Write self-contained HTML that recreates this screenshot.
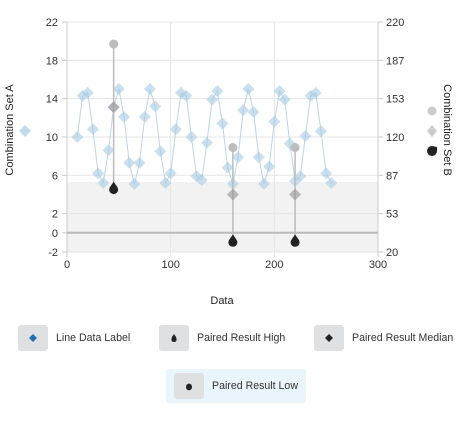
<!DOCTYPE html>
<html><head><meta charset="utf-8"><style>
body{margin:0;background:#fff;font-family:"Liberation Sans",sans-serif;}
.lg{position:absolute;display:flex;align-items:center;font-size:10.6px;color:#333;}
.sw{width:30px;height:26px;background:#dfe0e2;border-radius:3px;display:flex;align-items:center;justify-content:center;margin-right:8px;}
</style></head><body>
<div style="position:relative;width:470px;height:422px;">
<svg id="c" width="470" height="310" style="position:absolute;left:0;top:0"></svg>
<div class="lg" style="left:18px;top:325px"><div class="sw"><svg width="10" height="10"><path d="M5 1L9 5L5 9L1 5Z" fill="#1f6fb2"/></svg></div>Line Data Label</div>
<div class="lg" style="left:159px;top:325px"><div class="sw"><svg width="10" height="10"><path d="M5 9C2 9 2 6 3 4L5 1L7 4C8 6 8 9 5 9Z" fill="#222"/></svg></div>Paired Result High</div>
<div class="lg" style="left:314px;top:325px"><div class="sw"><svg width="10" height="10"><path d="M5 1L9 5L5 9L1 5Z" fill="#222"/></svg></div>Paired Result Median</div>
<div class="lg" style="left:166px;top:369px;background:#eaf4fb;padding:4px 8px 4px 8px;height:26px"><div class="sw"><svg width="10" height="10"><ellipse cx="5" cy="6" rx="3" ry="3.3" fill="#222"/><path d="M3 5L5 2L7 5Z" fill="#222"/></svg></div>Paired Result Low</div>
</div>
<script>
const xs=[10,15,20,25,30,35,40,45,50,55,60,65,70,75,80,85,90,95,100,105,110,115,120,125,130,135,140,145,150,155,160,165,170,175,180,185,190,195,200,205,210,215,220,225,230,235,240,245,250,255];
const ys=[10.0,14.3,14.6,10.8,6.2,5.2,8.6,13.1,15.0,12.1,7.3,5.1,7.3,12.1,15.0,13.2,8.5,5.2,6.2,10.8,14.6,14.3,10.0,5.9,5.5,9.4,13.9,14.8,11.4,6.8,5.1,7.9,12.8,15.0,12.6,7.9,5.1,6.9,11.6,14.8,13.9,9.3,5.4,5.9,10.1,14.3,14.6,10.6,6.2,5.2];
const pairX=[45,160,220];
const pairHigh=[19.7,8.9,8.9];
const pairMed=[13.1,4.0,4.0];
const pairLow=[4.7,-0.8,-0.8];
const leftTicks=[22,18,14,10,6,2,0,-2];
const rightTicks=[220,187,153,120,87,53,20];
const rightPos=[22,18,14,10,6,2,-2];
const xTicks=[0,100,200,300];
const X=v=>67+v*311/300, Y=v=>232.8-v*230/24;
const svg=document.getElementById('c');const NS='http://www.w3.org/2000/svg';
function mk(t,a,p){const e=document.createElementNS(NS,t);for(const k in a)e.setAttribute(k,a[k]);(p||svg).appendChild(e);return e;}
let e;
e=mk('rect',{x:67,y:Y(5.3),width:311,height:Y(-2)-Y(5.3),fill:'#f2f2f2'});

leftTicks.forEach(t=>{e=mk('line',{x1:62,x2:378,y1:Y(t),y2:Y(t),stroke:'#e6e6e6'});
mk('line',{x1:62,x2:67,y1:Y(t),y2:Y(t),stroke:'#ccc'});
e=mk('text',{x:58,y:Y(t)+4,'text-anchor':'end','font-size':11,fill:'#333'});e.textContent=t;});
rightTicks.forEach((t,i)=>{mk('line',{x1:378,x2:383,y1:Y(rightPos[i]),y2:Y(rightPos[i]),stroke:'#ccc'});
e=mk('text',{x:386,y:Y(rightPos[i])+4,'font-size':11,fill:'#333'});e.textContent=t;});
xTicks.forEach(t=>{e=mk('line',{x1:X(t),x2:X(t),y1:22,y2:257,stroke:'#e6e6e6'});
e=mk('text',{x:X(t),y:268,'text-anchor':'middle','font-size':11,fill:'#333'});e.textContent=t;});
mk('line',{x1:67,x2:67,y1:22,y2:257,stroke:'#ccc'});mk('line',{x1:378,x2:378,y1:22,y2:257,stroke:'#ccc'});
e=mk('line',{x1:67,x2:378,y1:Y(0),y2:Y(0),stroke:'#bbb','stroke-width':2});
e=mk('polyline',{points:xs.map((x,i)=>X(x)+','+Y(ys[i])).join(' '),fill:'none',stroke:'#9cc4de','stroke-width':1,opacity:0.7});

xs.forEach((x,i)=>{const cx=X(x),cy=Y(ys[i]);e=mk('path',{d:`M${cx} ${cy-6}L${cx+6} ${cy}L${cx} ${cy+6}L${cx-6} ${cy}Z`,fill:'#a9cce3',opacity:0.6});
});
pairX.forEach((x,i)=>{const cx=X(x);
e=mk('line',{x1:cx,x2:cx,y1:Y(pairHigh[i]),y2:Y(pairLow[i]),stroke:'#bbb','stroke-width':1.5});
e=mk('circle',{cx:cx,cy:Y(pairHigh[i]),r:4.5,fill:'#bdbdbd'});
const my=Y(pairMed[i]);e=mk('path',{d:`M${cx} ${my-6}L${cx+6} ${my}L${cx} ${my+6}L${cx-6} ${my}Z`,fill:'#9a9a9a',opacity:0.65});
const ly=Y(pairLow[i]);e=mk('path',{d:`M${cx} ${ly-6}L${cx+3.5} ${ly-1}A4.5 4.5 0 1 1 ${cx-3.5} ${ly-1}Z`,fill:'#222'});});
e=mk('text',{x:13,y:130,'text-anchor':'middle','font-size':11,fill:'#222',transform:'rotate(-90 13 130)'});e.textContent='Combination Set A';
e=mk('path',{d:'M25 125L31 131L25 137L19 131Z',fill:'#a9cce3',opacity:0.7});
e=mk('text',{x:444,y:130,'text-anchor':'middle','font-size':11,fill:'#222',transform:'rotate(90 444 130)'});e.textContent='Combination Set B';
e=mk('circle',{cx:432,cy:111,r:4.5,fill:'#ccc'});
e=mk('path',{d:'M432 125L437 131L432 137L427 131Z',fill:'#ccc'});
e=mk('path',{d:'M437 151A5 5 0 1 1 432 146L437 147Z',fill:'#222'});
e=mk('text',{x:222,y:304,'text-anchor':'middle','font-size':11,fill:'#222'});e.textContent='Data';
</script>
</body></html>
